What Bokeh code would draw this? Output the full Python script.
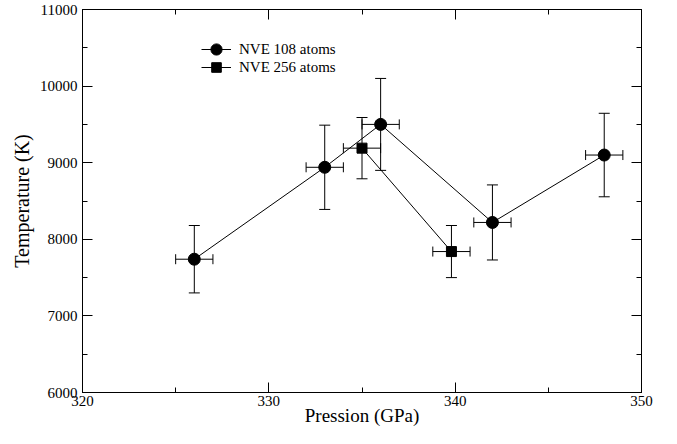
from bokeh.plotting import figure
from bokeh.models import (ColumnDataSource, Range1d, LinearAxis, Whisker, TeeHead,
                          Legend, LegendItem, SingleIntervalTicker)
from bokeh.embed import file_html
from bokeh.resources import INLINE

# ---- data ----
p108 = [326.0, 333.0, 336.0, 342.0, 348.0]
t108 = [7740, 8940, 9500, 8220, 9100]
dt108 = [440, 550, 600, 490, 545]
dp108 = [1.0, 1.0, 1.0, 1.0, 1.0]

p256 = [335.0, 339.8]
t256 = [9190, 7840]
dt256 = [400, 340]
dp256 = [1.0, 1.0]

label108 = "NVE 108 atoms"
label256 = "NVE 256 atoms"
xlabel = "Pression (GPa)"
ylabel = "Temperature (K)"

FONT = "Liberation Serif"


def make_source(px, ty, dty, dpx):
    return ColumnDataSource(dict(
        x=px, y=ty,
        ylo=[a - b for a, b in zip(ty, dty)], yhi=[a + b for a, b in zip(ty, dty)],
        xlo=[a - b for a, b in zip(px, dpx)], xhi=[a + b for a, b in zip(px, dpx)],
    ))


s108 = make_source(p108, t108, dt108, dp108)
s256 = make_source(p256, t256, dt256, dp256)

p = figure(width=661, height=428, output_backend="svg", toolbar_location=None,
           x_range=Range1d(320, 350), y_range=Range1d(6000, 11000),
           min_border_left=82, min_border_right=20, min_border_top=9, min_border_bottom=30,
           background_fill_color="white", border_fill_color="white")
p.grid.visible = False
p.outline_line_color = "black"
p.outline_line_width = 1


def style_axis(ax, labels=True):
    ax.axis_line_color = "black"
    ax.major_tick_line_color = "black"
    ax.minor_tick_line_color = "black"
    ax.major_tick_in = 10
    ax.major_tick_out = 0
    ax.minor_tick_in = 5
    ax.minor_tick_out = 0
    ax.major_label_text_font = FONT
    ax.major_label_text_color = "black"
    ax.axis_label_text_font = FONT
    ax.axis_label_text_font_style = "normal"
    ax.axis_label_text_color = "black"
    ax.axis_label_text_font_size = "19px"
    if labels:
        ax.major_label_text_font_size = "15px"
    else:
        ax.major_label_text_font_size = "1px"
        ax.major_label_text_alpha = 0
        ax.major_label_standoff = 0


p.xaxis.ticker = SingleIntervalTicker(interval=10, num_minor_ticks=2)
p.yaxis.ticker = SingleIntervalTicker(interval=1000, num_minor_ticks=2)
style_axis(p.xaxis[0])
style_axis(p.yaxis[0])
p.xaxis.axis_label = xlabel
p.yaxis.axis_label = ylabel
p.xaxis.major_label_standoff = 3
p.xaxis.axis_label_standoff = -4
p.yaxis.major_label_standoff = 5
p.yaxis.axis_label_standoff = 4
p.yaxis.axis_label_text_font_size = "20px"

top = LinearAxis(ticker=SingleIntervalTicker(interval=10, num_minor_ticks=2))
right = LinearAxis(ticker=SingleIntervalTicker(interval=1000, num_minor_ticks=2))
style_axis(top, labels=False)
style_axis(right, labels=False)
p.add_layout(top, "above")
p.add_layout(right, "right")

# connecting lines
l108 = p.line("x", "y", source=s108, line_color="black", line_width=1)
l256 = p.line("x", "y", source=s256, line_color="black", line_width=1)

# error bars
for src in (s108, s256):
    wy = Whisker(source=src, base="x", lower="ylo", upper="yhi", dimension="height",
                 line_color="black", line_width=1,
                 upper_head=TeeHead(size=11, line_color="black", line_width=1),
                 lower_head=TeeHead(size=11, line_color="black", line_width=1))
    wx = Whisker(source=src, base="y", lower="xlo", upper="xhi", dimension="width",
                 line_color="black", line_width=1,
                 upper_head=TeeHead(size=10, line_color="black", line_width=1),
                 lower_head=TeeHead(size=10, line_color="black", line_width=1))
    p.add_layout(wy)
    p.add_layout(wx)

m108 = p.scatter("x", "y", source=s108, marker="circle", size=12,
                 fill_color="black", line_color="black")
m256 = p.scatter("x", "y", source=s256, marker="square", size=10,
                 fill_color="black", line_color="black")


def make_legend(item, loc, gh):
    return Legend(items=[item], location=loc, orientation="vertical",
                  glyph_width=30, glyph_height=gh, spacing=0, padding=0, margin=0,
                  label_standoff=8, label_text_font=FONT, label_text_font_size="15px",
                  label_height=14, label_text_color="black",
                  border_line_alpha=0, background_fill_alpha=0)


leg1 = make_legend(LegendItem(label=label108, renderers=[l108, m108]), (119, 329), 28)
leg2 = make_legend(LegendItem(label=label256, renderers=[l256, m256]), (119, 313), 24)
p.add_layout(leg1, "center")
p.add_layout(leg2, "center")

open("out.html", "w").write(file_html(p, INLINE))
